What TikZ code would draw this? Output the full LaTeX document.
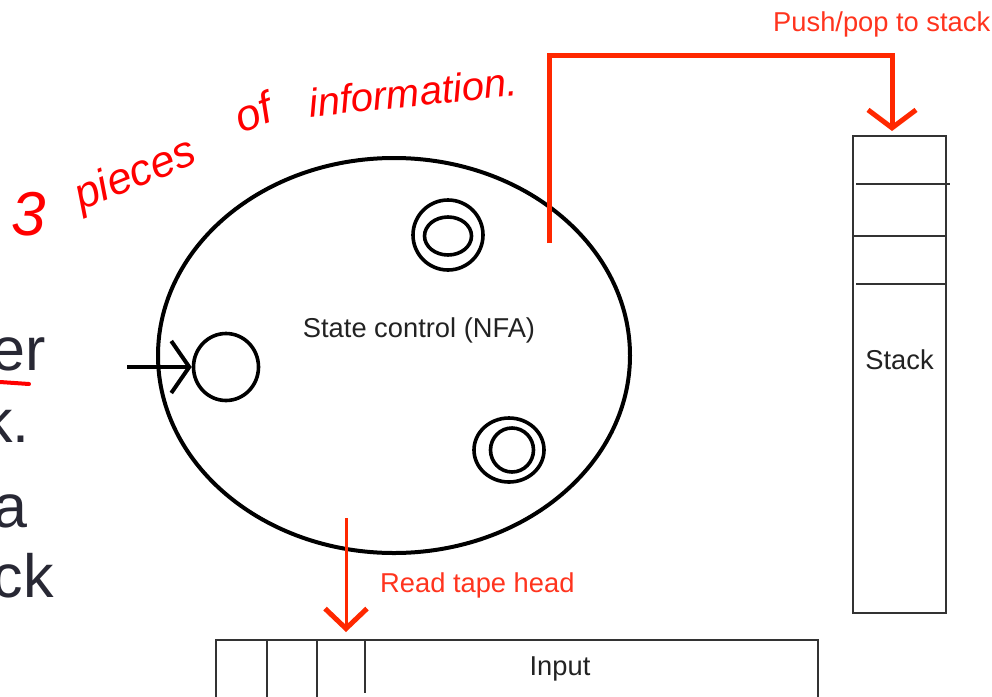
\documentclass[tikz,border=0pt]{standalone}
\usepackage{fontspec}
\setmainfont{Liberation Sans}
\usetikzlibrary{shapes.geometric,arrows.meta}

\definecolor{ink}{RGB}{34,34,34}
\definecolor{boxline}{RGB}{51,51,51}
\definecolor{slidetext}{RGB}{40,40,52}
\definecolor{pdared}{RGB}{255,40,0}
\definecolor{pdatext}{RGB}{255,52,30}
\definecolor{pen}{RGB}{255,0,0}

\tikzset{
  lbl/.style={font=\fontsize{27.3}{31}\selectfont, text=ink, inner sep=0pt},
  redlbl/.style={font=\fontsize{27.3}{31}\selectfont, text=pdatext, inner sep=0pt},
  slide/.style={font=\fontsize{61}{70}\selectfont, text=slidetext, inner sep=0pt},
  hand/.style={font=\itshape, text=pen, inner sep=0pt},
  statebox/.style={draw=black, ellipse, line width=3.6pt, inner sep=0pt},
  cellbox/.style={draw=boxline, line width=2pt, rectangle, inner sep=0pt},
  celldiv/.style={draw=boxline, line width=2pt},
  startarrow/.style={draw=black, line width=4pt,
    -{Straight Barb[length=18pt, width=52pt, line width=4pt]}},
  pusharrow/.style={draw=pdared, line width=5pt,
    -{Straight Barb[length=18pt, width=48pt, line width=5pt]}},
  readarrow/.style={draw=pdared, line width=3pt,
    -{Straight Barb[length=20pt, width=42pt, line width=5pt]}},
}

\begin{document}
\begin{tikzpicture}[x=1pt, y=-1pt]
\useasboundingbox (0,0) rectangle (992,696);

% finite state control
\node[draw=black, ellipse, line width=4pt, inner sep=0pt,
      minimum width=472pt, minimum height=395pt] (ctrl) at (394,355.5) {};
\node[lbl, anchor=base] (ctrltext) at (419,337) {State control (NFA)};

% states
\node[statebox, minimum width=65pt, minimum height=67pt] (start) at (226,367) {};
\node[statebox, minimum width=70pt, minimum height=70pt] (accA) at (448,235) {};
\node[statebox, minimum width=47pt, minimum height=38pt] (accAin) at (448,236) {};
\node[statebox, minimum width=70pt, minimum height=64pt] (accB) at (509,450) {};
\node[statebox, minimum width=43pt, minimum height=44pt] (accBin) at (512,450) {};

\coordinate (startin) at (127,367);
\draw[startarrow] (startin) -- (start.west);

% stack
\node[cellbox, minimum width=93pt, minimum height=477pt] (stack) at (899.5,374.5) {};
\draw[celldiv] (856,184) -- (950,184);
\draw[celldiv] (stack.west |- 0,236) -- (stack.east |- 0,236);
\draw[celldiv] (856,284) -- (stack.east |- 0,284);
\node[lbl, anchor=base] (stacktext) at (899.5,369) {Stack};

% input tape
\node[cellbox, minimum width=602pt, minimum height=100pt] (input) at (517,690) {};
\draw[celldiv] (267,640) -- (267,700);
\draw[celldiv] (317,640) -- (317,700);
\draw[celldiv] (365,640) -- (365,693);
\node[lbl, anchor=base] (inputtext) at (560,675) {Input};

% push/pop connector
\coordinate (pushstart) at (549,243);
\coordinate (pushcorner) at (892,55);
\draw[pusharrow, shorten >=4pt] (pushstart) |- (pushcorner) -- (pushcorner |- stack.north);
\node[redlbl, anchor=base west] (pushtext) at (773,31) {Push/pop to stack};

% read head connector
\coordinate (readstart) at (346,518);
\draw[readarrow, shorten >=7pt] (readstart) -- (readstart |- input.north);
\node[redlbl, anchor=base west] (readtext) at (380,592) {Read tape head};

% slide text at the left margin
\node[slide, anchor=base east] (lineA) at (46,370) {er};
\node[slide, anchor=base east] (lineB) at (30,442) {k.};
\node[slide, anchor=base east] (lineC) at (28,527) {a};
\node[slide, anchor=base east] (lineD) at (54,597) {ck};
\draw[pen, line width=4pt, line cap=round] (0,382) -- (29,384);

% pen annotation
\node[hand, font=\itshape\fontsize{62}{70}\selectfont] (noteA) at (29,214) {3};
\node[hand, font=\itshape\fontsize{44}{50}\selectfont, rotate=22] (noteB) at (136,176) {pieces};
\node[hand, font=\itshape\fontsize{44}{50}\selectfont, rotate=20] (noteC) at (253,112) {of};
\node[hand, font=\itshape\fontsize{40}{46}\selectfont, rotate=6] (noteD) at (413,92) {information.};
\end{tikzpicture}
\end{document}
